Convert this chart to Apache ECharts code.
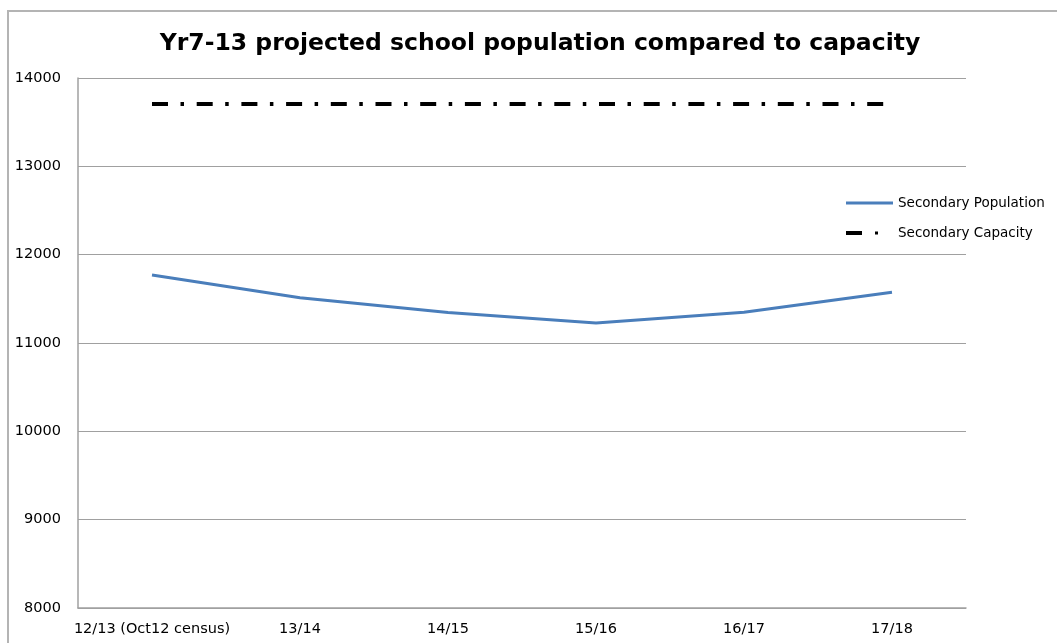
<!DOCTYPE html>
<html>
<head>
<meta charset="utf-8">
<script src="https://cdn.jsdelivr.net/npm/echarts@6/dist/echarts.min.js"></script>
<style>
html,body{margin:0;padding:0;background:#fff;}
#main{width:1057px;height:643px;}
</style>
</head>
<body>
<div id="main"></div>
<script>
const categories = ['12/13 (Oct12 census)', '13/14', '14/15', '15/16', '16/17', '17/18'];
const secondaryPopulation = [11770, 11513, 11344, 11226, 11347, 11574];
const secondaryCapacity = [13706, 13706, 13706, 13706, 13706, 13706];
const yTicks = { min: 8000, max: 14000, interval: 1000 };

const chart = echarts.init(document.getElementById('main'), null, { renderer: 'canvas' });
const axisFont = { fontFamily: 'DejaVu Sans', fontSize: 14.5, color: '#000' };
chart.setOption({
  animation: false,
  backgroundColor: '#fff',
  graphic: [{
    type: 'polyline',
    shape: { points: [[8, 660], [8, 11], [1070, 11]] },
    style: { stroke: '#b4b4b4', lineWidth: 2, fill: null },
    silent: true
  }],
  title: {
    text: 'Yr7-13 projected school population compared to capacity',
    left: 535, top: 27, textAlign: 'center',
    textStyle: { fontFamily: 'DejaVu Sans', fontWeight: 'bold', fontSize: 23.5, color: '#000' }
  },
  legend: {
    orient: 'vertical',
    left: 846, top: 196, padding: 0,
    itemWidth: 47, itemHeight: 14, itemGap: 16,
    textStyle: { fontFamily: 'DejaVu Sans', fontSize: 13.5, color: '#000' },
    data: [
      { name: 'Secondary Population', icon: 'path://M0,0 L47,0 L47,3 L0,3 Z', itemStyle: { color: '#4a7ebb' } },
      { name: 'Secondary Capacity', icon: 'path://M0,0 L16,0 L16,4 L0,4 Z M29,0.5 L32,0.5 L32,3.5 L29,3.5 Z M47,2 L47,2 Z', itemStyle: { color: '#000' } }
    ]
  },
  grid: { left: 78, right: 91, top: 78, bottom: 35, containLabel: false },
  xAxis: {
    type: 'category',
    data: categories,
    boundaryGap: true,
    axisLine: { lineStyle: { color: '#a0a0a0', width: 1.5 } },
    axisTick: { show: false },
    axisLabel: Object.assign({ margin: 14, interval: 0 }, axisFont),
    splitLine: { show: false }
  },
  yAxis: {
    type: 'value',
    min: yTicks.min, max: yTicks.max, interval: yTicks.interval,
    axisLine: { show: true, lineStyle: { color: '#a0a0a0', width: 1.5 } },
    axisTick: { show: false },
    axisLabel: Object.assign({ margin: 17, formatter: v => String(v) }, axisFont),
    splitLine: { lineStyle: { color: '#a0a0a0', width: 1.2 } }
  },
  series: [
    {
      name: 'Secondary Population',
      type: 'line',
      data: secondaryPopulation,
      symbol: 'none',
      lineStyle: { color: '#4a7ebb', width: 3 },
      itemStyle: { color: '#4a7ebb' }
    },
    {
      name: 'Secondary Capacity',
      type: 'line',
      data: secondaryCapacity,
      symbol: 'none',
      lineStyle: { color: '#000', width: 4, type: [16, 12.5, 3.5, 12.7], cap: 'butt' },
      itemStyle: { color: '#000' }
    }
  ]
});
</script>
</body>
</html>
